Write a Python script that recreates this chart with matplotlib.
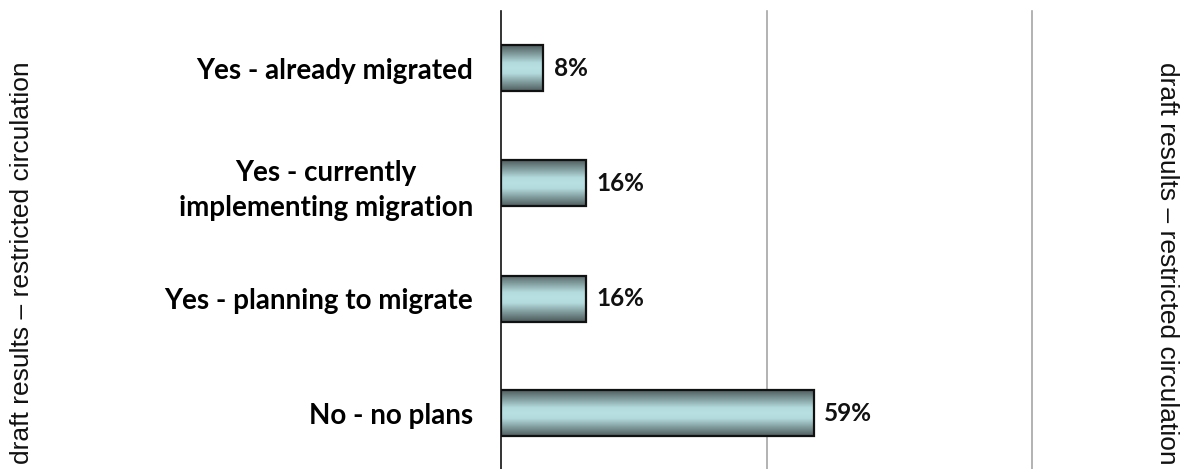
import numpy as np
import matplotlib.pyplot as plt
from matplotlib.colors import LinearSegmentedColormap

categories = ["Yes - already migrated",
              "Yes - currently\nimplementing migration",
              "Yes - planning to migrate",
              "No - no plans"]
values = [8, 16, 16, 59]
value_labels = ["8%", "16%", "16%", "59%"]
side_note = "draft results \u2013 restricted circulation"

W, H = 1189, 469
fig = plt.figure(figsize=(W / 100, H / 100), dpi=100)
ax = fig.add_axes([501 / W, (H - 471) / H, (1032 - 501) / W, (471 - 11) / H])

y = np.arange(len(categories))
bar_h = 0.4
bars = ax.barh(y, values, height=bar_h, color="none", edgecolor="#111111",
               linewidth=1.6, zorder=3)

# vertical shading: dark at the edges, pale cyan in the middle
shade = LinearSegmentedColormap.from_list(
    "shade",
    [(0.0, "#4f5e5f"), (0.18, "#7d9798"), (0.38, "#b3dadd"), (0.5, "#b8e0e3"),
     (0.62, "#b3dadd"), (0.82, "#7d9798"), (1.0, "#4f5e5f")])
grad = np.linspace(0, 1, 256).reshape(-1, 1)
for rect in bars:
    x0, y0 = rect.get_x(), rect.get_y()
    w, h = rect.get_width(), rect.get_height()
    im = ax.imshow(grad, cmap=shade, aspect="auto", extent=[x0, x0 + w, y0 + h, y0],
                   zorder=2, interpolation="bicubic")
    im.set_clip_path(rect)

for yi, v, lab in zip(y, values, value_labels):
    ax.text(v + 1.9, yi, lab, va="center", ha="left", fontsize=17.5,
            fontweight="bold", family="Lato", color="#111111")

ax.set_xlim(0, 100)
ax.set_ylim(3.5, -0.5)
ax.set_yticks(y)
ax.set_yticklabels(categories, fontsize=20, fontweight="bold", family="Lato",
                   ha="right", multialignment="center", linespacing=1.45)
ax.tick_params(axis="y", length=0, pad=20)
ax.set_xticks([])
for s in ["top", "right", "bottom"]:
    ax.spines[s].set_visible(False)
ax.spines["left"].set_color("#111111")
ax.spines["left"].set_linewidth(1.2)
for gx in (50, 100):
    ax.axvline(gx, color="#a6a6a6", linewidth=1.2, zorder=1, clip_on=False)

fig.text(22 / W, 1 - 263 / H, side_note, rotation=90, ha="center", va="center",
         fontsize=19, family="Liberation Sans", color="#111111")
fig.text(1167 / W, 1 - 263 / H, side_note, rotation=270, ha="center", va="center",
         fontsize=19, family="Liberation Sans", color="#111111")

fig.savefig("out.png", dpi=100)
